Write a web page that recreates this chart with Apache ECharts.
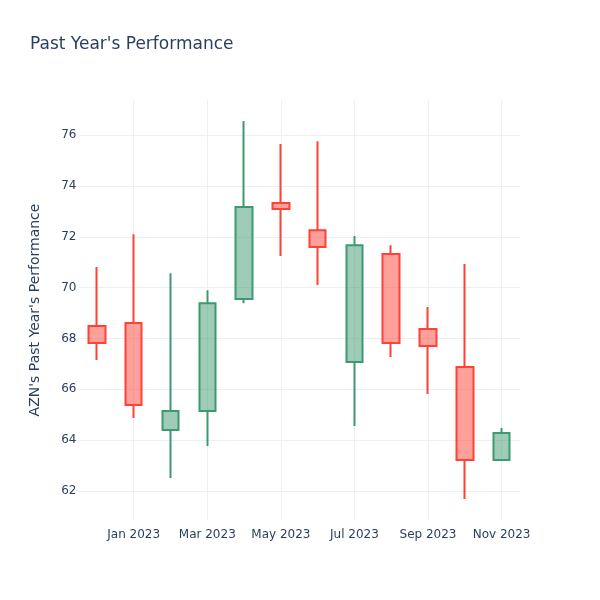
<!DOCTYPE html>
<html>
<head>
<meta charset="utf-8">
<script src="https://cdn.jsdelivr.net/npm/echarts@6/dist/echarts.min.js"></script>
<style>html,body{margin:0;padding:0;background:#fff}#c{width:600px;height:600px}</style>
</head>
<body>
<div id="c"></div>
<script>
const categories = ['Dec 2022','Jan 2023','Feb 2023','Mar 2023','Apr 2023','May 2023','Jun 2023','Jul 2023','Aug 2023','Sep 2023','Oct 2023','Nov 2023'];
const openValues  = [68.49, 68.61, 64.40, 65.15, 69.55, 73.33, 72.26, 67.07, 71.32, 68.37, 66.88, 63.22];
const closeValues = [67.82, 65.38, 65.15, 69.39, 73.17, 73.09, 71.60, 71.67, 67.82, 67.70, 63.22, 64.28];
const lowValues   = [67.15, 64.87, 62.51, 63.77, 69.39, 71.24, 70.10, 64.56, 67.27, 65.82, 61.69, 63.22];
const highValues  = [70.81, 72.10, 70.57, 69.90, 76.55, 75.65, 75.76, 72.03, 71.67, 69.24, 70.93, 64.48];

const candleData = categories.map((c, i) => [openValues[i], closeValues[i], lowValues[i], highValues[i]]);
const FONT = '"DejaVu Sans", sans-serif';
const labelEvery2 = (idx) => idx % 2 === 1;

const chart = echarts.init(document.getElementById('c'), null, {renderer: 'canvas'});
chart.setOption({
  backgroundColor: '#ffffff',
  animation: false,
  title: {
    text: "Past Year's Performance",
    left: 25, top: 31,
    textStyle: {color: '#2a3f5f', fontSize: 17, fontWeight: 'normal', fontFamily: FONT}
  },
  grid: {left: 78.5, right: 80, top: 100, bottom: 80, containLabel: false},
  xAxis: {
    type: 'category',
    data: categories,
    boundaryGap: true,
    axisLine: {show: false},
    axisTick: {show: false, alignWithLabel: true, interval: labelEvery2},
    axisLabel: {interval: labelEvery2, color: '#2a3f5f', fontSize: 12, fontFamily: FONT, margin: 9},
    splitLine: {show: true, alignWithLabel: true, interval: labelEvery2, lineStyle: {color: '#ebf0f8', width: 1}}
  },
  yAxis: {
    type: 'value',
    min: 60.86, max: 77.38,
    splitNumber: 8,
    name: "AZN's Past Year's Performance",
    nameLocation: 'middle',
    nameGap: 36.5,
    nameTextStyle: {color: '#2a3f5f', fontSize: 14, fontFamily: FONT},
    axisLine: {show: false},
    axisTick: {show: false},
    axisLabel: {color: '#2a3f5f', fontSize: 12, fontFamily: FONT, margin: 2, showMinLabel: false, showMaxLabel: false},
    splitLine: {show: true, showMinLine: false, showMaxLine: false, lineStyle: {color: '#ebf0f8', width: 1}}
  },
  series: [{
    type: 'candlestick',
    data: candleData,
    barWidth: 17,
    itemStyle: {
      color: 'rgba(61,153,112,0.5)',
      color0: 'rgba(255,65,54,0.5)',
      borderColor: '#3D9970',
      borderColor0: '#FF4136',
      borderWidth: 2
    }
  }]
});
</script>
</body>
</html>
